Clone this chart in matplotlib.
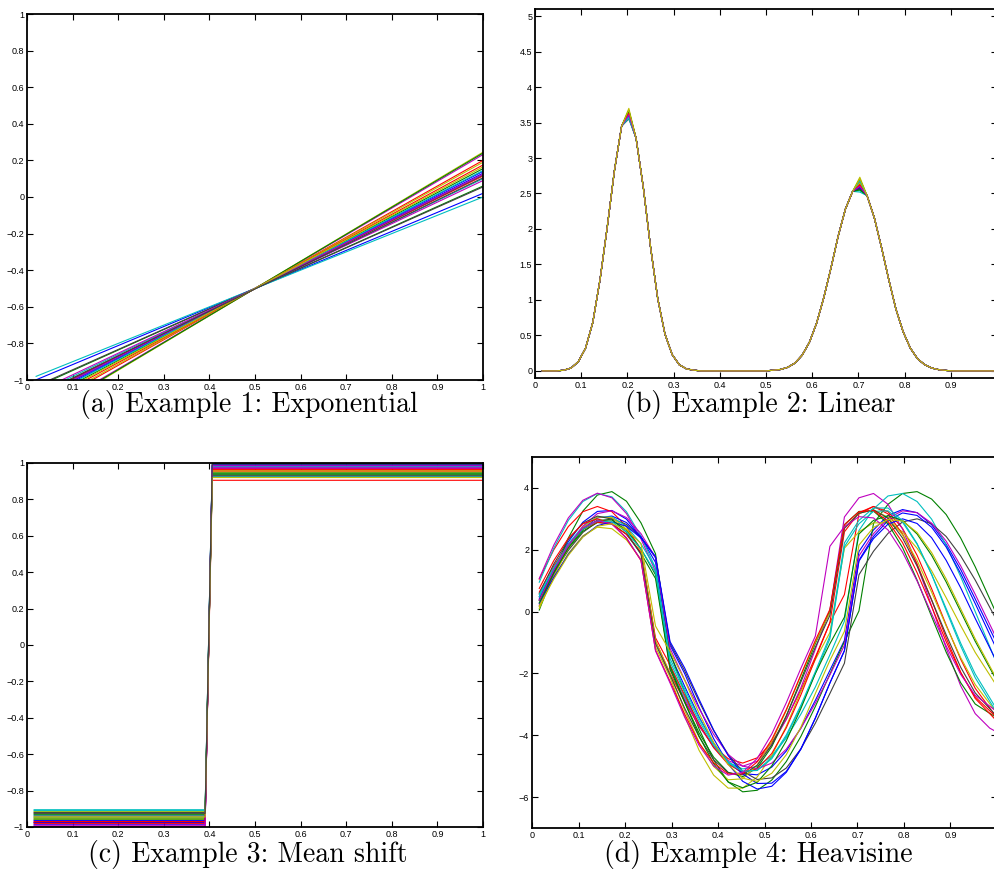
import numpy as np
import matplotlib.pyplot as plt
from matplotlib.ticker import FuncFormatter

W, H = 995, 873
TICKFONT = 6.5
CAPFONT = 20
LW = 0.8

# old matlab colour order: b g r c m y k
COLORS = ["#0000ff", "#008000", "#ff0000", "#00bfbf", "#bf00bf", "#bfbf00", "#404040"]

# ---------- (a) Exponential: straight lines through one point ----------
A_X = [0.02, 1.0]
A_START = [-0.999, -1.038, -1.172, -0.980, -1.203, -1.215, -1.033, -1.105, -1.210, -1.090, -1.076,
           -1.066, -1.162, -1.095, -1.114, -1.129, -1.148, -1.119, -1.100, -1.138, -1.086]
A_END = [0.02, 0.06, 0.20, 0.0, 0.232, 0.245, 0.055, 0.13, 0.24, 0.115, 0.10,
         0.09, 0.19, 0.12, 0.14, 0.155, 0.175, 0.145, 0.125, 0.165, 0.105]

# ---------- (b) Linear: two bumps, curves only differ at the tops ----------
B_X = np.arange(1, 65) / 64
B_PROFILE = [0.0, 0.0, 0.0, 0.01, 0.04, 0.13, 0.32, 0.68, 1.28, 2.02, 2.82, 3.45, 3.62, 3.28, 2.59, 1.75,
             1.02, 0.52, 0.23, 0.085, 0.028, 0.01, 0.0, 0.0, 0.0, 0.0, 0.0, 0.0, 0.0, 0.0, 0.0, 0.0,
             0.01, 0.02, 0.05, 0.11, 0.22, 0.40, 0.67, 1.03, 1.45, 1.90, 2.28, 2.53, 2.60, 2.47, 2.16, 1.74,
             1.29, 0.87, 0.55, 0.32, 0.17, 0.086, 0.039, 0.016, 0.006, 0.0, 0.0, 0.0, 0.0, 0.0, 0.0, 0.0]
B_PEAK1 = [3.58, 3.62, 3.64, 3.57, 3.60, 3.70, 3.55, 3.63, 3.67, 3.61,
           3.56, 3.65, 3.59, 3.62, 3.60, 3.66, 3.63, 3.58, 3.61, 3.68]
B_PEAK2 = [2.58, 2.62, 2.66, 2.54, 2.63, 2.73, 2.56, 2.60, 2.70, 2.64,
           2.52, 2.61, 2.65, 2.57, 2.59, 2.55, 2.62, 2.68, 2.60, 2.71]

# ---------- (c) Mean shift: steps ----------
C_X = [0.0156, 0.3906, 0.4063, 1.0]
C_LOW = [-0.985, -0.96, -0.975, -0.905, -0.995, -0.955, -0.92, -0.975, -0.95, -0.98, -0.935,
         -0.99, -0.915, -0.94, -0.965, -0.93, -0.97, -0.91, -1.0, -0.945, -0.925]
C_HIGH = [0.98, 0.935, 0.905, 0.99, 0.97, 0.96, 0.995, 0.985, 0.94, 0.955, 0.925,
          0.975, 0.95, 0.93, 0.99, 0.945, 0.965, 0.98, 0.985, 0.92, 0.995]

# ---------- (d) Heavisine: warped curves ----------
D_X = np.append(np.arange(1, 64, 2) / 64, 1.0)
D_CURVES = [
    [0.41, 1.41, 2.26, 2.89, 3.24, 3.27, 2.99, 2.40, 1.59, -1.38, -2.41, -3.41, -4.26, -4.89, -5.24, -5.28,
     -5.03, -4.51, -3.77, -2.87, -1.90, -0.93, 1.94, 2.64, 3.11, 3.30, 3.20, 2.81, 2.18, 1.36, 0.41, -0.56, -1.04],
    [0.05, 1.26, 2.38, 3.25, 3.77, 3.88, 3.57, 2.87, 1.87, -1.33, -2.60, -3.80, -4.80, -5.51, -5.83, -5.78,
     -5.45, -4.85, -4.04, -3.07, -2.02, -0.97, 0.02, 2.85, 3.47, 3.82, 3.88, 3.64, 3.14, 2.38, 1.45, 0.41, -0.11],
    [1.05, 2.00, 2.75, 3.23, 3.40, 3.23, 2.75, 2.00, -0.95, -2.00, -2.90, -3.71, -4.35, -4.76, -4.90, -4.73,
     -4.24, -3.48, -2.54, -1.47, -0.36, 0.55, 3.16, 3.40, 3.23, 2.69, 1.82, 0.74, -0.43, -1.54, -2.48, -3.12, -3.44],
    [0.95, 2.05, 2.95, 3.56, 3.82, 3.71, 3.23, 2.44, 1.41, -1.76, -2.77, -3.66, -4.39, -4.88, -5.09, -5.01,
     -4.67, -4.09, -3.32, -2.44, -1.40, -0.31, 2.62, 3.32, 3.74, 3.82, 3.56, 2.99, 2.15, 1.13, 0.00, -1.13, -1.70],
    [1.07, 2.15, 3.03, 3.60, 3.83, 3.68, 3.17, 2.35, 1.30, -1.88, -2.84, -3.69, -4.37, -4.82, -5.00, -4.84,
     -4.31, -3.49, -2.47, -1.22, 0.05, 3.06, 3.68, 3.82, 3.47, 2.67, 1.52, 0.18, -1.18, -2.40, -3.30, -3.77, -3.90],
    [0.17, 1.09, 1.88, 2.45, 2.73, 2.68, 2.32, 1.69, -1.15, -2.12, -3.38, -4.49, -5.29, -5.71, -5.71, -5.35,
     -4.66, -3.71, -2.59, -1.55, -0.68, 2.05, 2.58, 2.87, 2.87, 2.58, 2.05, 1.32, 0.45, -0.45, -1.32, -2.05, -2.42],
    [0.38, 1.24, 1.98, 2.56, 2.91, 3.00, 2.82, 2.40, 1.76, -1.03, -1.91, -2.91, -3.85, -4.62, -5.17, -5.43,
     -5.38, -5.06, -4.44, -3.61, -2.65, -1.67, 1.19, 1.95, 2.53, 2.90, 3.00, 2.84, 2.43, 1.80, 1.02, 0.14, -0.30],
    [0.48, 1.36, 2.12, 2.69, 3.03, 3.09, 2.88, 2.42, 1.74, -1.09, -2.00, -3.10, -4.11, -4.93, -5.49, -5.74,
     -5.65, -5.20, -4.45, -3.44, -2.31, -1.26, 1.66, 2.43, 2.95, 3.19, 3.11, 2.73, 2.09, 1.23, 0.26, -0.74, -1.24],
    [0.36, 1.28, 2.05, 2.60, 2.88, 2.84, 2.50, 1.88, 1.07, -1.86, -2.93, -3.93, -4.71, -5.20, -5.34, -5.05,
     -4.37, -3.38, -2.21, -1.03, 0.02, 2.81, 3.24, 3.25, 2.84, 2.07, 1.02, -0.16, -1.31, -2.30, -2.99, -3.29, -3.44],
    [0.63, 1.48, 2.18, 2.66, 2.89, 2.83, 2.50, 1.92, -0.85, -1.73, -2.70, -3.63, -4.40, -4.94, -5.19, -5.09,
     -4.59, -3.76, -2.70, -1.52, -0.36, 2.58, 3.20, 3.40, 3.16, 2.51, 1.54, 0.37, -0.85, -1.96, -2.81, -3.30, -3.55],
    [0.48, 1.41, 2.19, 2.76, 3.06, 3.06, 2.76, 2.19, 1.41, -1.52, -2.50, -3.45, -4.26, -4.85, -5.16, -5.14,
     -4.76, -4.04, -3.08, -2.00, -0.88, 2.10, 2.84, 3.24, 3.26, 2.89, 2.18, 1.21, 0.10, -1.02, -2.02, -2.79, -3.18],
    [0.21, 1.20, 2.08, 2.76, 3.17, 3.26, 3.04, 2.52, 1.75, -1.19, -2.20, -3.14, -3.97, -4.62, -5.00, -5.09,
     -4.90, -4.45, -3.78, -2.96, -2.05, -1.09, 1.80, 2.52, 3.02, 3.26, 3.20, 2.86, 2.28, 1.48, 0.56, -0.41, -0.90],
    [0.10, 1.14, 2.05, 2.72, 3.06, 3.04, 2.67, 1.97, -0.95, -2.00, -3.19, -4.23, -5.01, -5.44, -5.41, -4.96,
     -4.20, -3.20, -2.07, -0.99, -0.03, 2.72, 3.18, 3.29, 3.05, 2.48, 1.65, 0.63, -0.46, -1.49, -2.36, -2.98, -3.29],
    [0.58, 1.54, 2.33, 2.86, 3.09, 2.99, 2.56, 1.85, -1.04, -2.05, -3.12, -4.05, -4.79, -5.21, -5.28, -4.97,
     -4.31, -3.37, -2.28, -1.15, -0.12, 2.69, 3.18, 3.29, 3.02, 2.38, 1.47, 0.38, -0.75, -1.80, -2.63, -3.14, -3.40],
    [0.27, 1.11, 1.85, 2.42, 2.78, 2.90, 2.76, 2.38, 1.78, -0.97, -1.82, -2.84, -3.83, -4.66, -5.25, -5.56,
     -5.55, -5.17, -4.45, -3.45, -2.31, -1.27, 1.63, 2.36, 2.83, 3.00, 2.85, 2.39, 1.66, 0.77, -0.22, -1.17, -1.65],
    [0.28, 1.24, 2.06, 2.66, 2.96, 2.96, 2.63, 2.03, 1.19, -1.77, -2.92, -4.03, -4.92, -5.51, -5.70, -5.52,
     -4.99, -4.18, -3.14, -2.00, -1.04, -0.18, 2.51, 2.95, 3.10, 2.95, 2.51, 1.82, 0.96, 0.00, -0.96, -1.82, -2.25],
    [0.75, 1.65, 2.37, 2.84, 3.00, 2.84, 2.37, 1.65, -1.25, -2.26, -3.31, -4.26, -4.89, -5.25, -5.25, -4.86,
     -4.14, -3.17, -2.05, -0.93, 0.07, 2.81, 3.23, 3.27, 2.92, 2.23, 1.26, 0.16, -0.97, -1.98, -2.76, -3.21, -3.44],
    [0.55, 1.42, 2.15, 2.67, 2.93, 2.90, 2.58, 2.02, 1.26, -1.63, -2.60, -3.54, -4.33, -4.90, -5.17, -5.13,
     -4.72, -3.99, -3.03, -1.94, -0.79, 2.22, 2.95, 3.35, 3.35, 2.94, 2.20, 1.20, 0.04, -1.11, -2.14, -2.90, -3.28],
    [0.37, 1.34, 2.15, 2.71, 2.94, 2.83, 2.39, 1.66, -1.27, -2.31, -3.41, -4.33, -4.99, -5.29, -5.20, -4.75,
     -3.96, -2.95, -1.84, -0.79, 2.11, 2.75, 3.07, 3.03, 2.64, 1.92, 0.99, -0.07, -1.11, -2.03, -2.71, -3.06, -3.24],
    [0.18, 1.05, 1.82, 2.41, 2.76, 2.84, 2.65, 2.20, -0.47, -1.29, -2.22, -3.29, -4.23, -4.95, -5.39, -5.49,
     -5.23, -4.63, -3.74, -2.65, -1.58, -0.64, 2.15, 2.72, 2.98, 2.93, 2.56, 1.91, 1.06, 0.09, -0.88, -1.76, -2.20],
]

CAPTIONS = ["(a) Example 1: Exponential", "(b) Example 2: Linear",
            "(c) Example 3: Mean shift", "(d) Example 4: Heavisine"]


def matlab_fmt(v, pos):
    return ("%g" % round(v, 6)).replace("-", "\u2212")


def px_axes(left, top, right, bottom):
    return fig.add_axes([left / W, 1 - bottom / H, (right - left) / W, (bottom - top) / H])


def style(ax, xlim, ylim, yticks):
    ax.set_xlim(*xlim)
    ax.set_ylim(*ylim)
    ax.set_xticks(np.arange(0, 11) / 10)
    ax.set_yticks(yticks)
    ax.xaxis.set_major_formatter(FuncFormatter(matlab_fmt))
    ax.yaxis.set_major_formatter(FuncFormatter(matlab_fmt))
    ax.tick_params(direction="in", top=True, right=True, length=4, width=0.8,
                   labelsize=TICKFONT, pad=2)
    for lab in ax.get_xticklabels() + ax.get_yticklabels():
        lab.set_family("Liberation Sans")
    for sp in ax.spines.values():
        sp.set_linewidth(1.3)


fig = plt.figure(figsize=(W / 100, H / 100), dpi=100)

# (a)
ax = px_axes(27, 14, 483, 380)
for i in range(len(A_END)):
    ax.plot(A_X, [A_START[i], A_END[i]], color=COLORS[i % 7], linewidth=LW)
style(ax, (0, 1), (-1, 1), np.arange(-5, 6) / 5)

# (b)
ax = px_axes(535, 9, 997, 378)
for i in range(len(B_PEAK1)):
    y = list(B_PROFILE)
    y[12] = B_PEAK1[i]
    y[44] = B_PEAK2[i]
    ax.plot(B_X, y, color=COLORS[i % 7], linewidth=LW)
style(ax, (0, 1), (-0.1, 5.1), np.arange(0, 11) / 2)

# (c)
ax = px_axes(27, 463, 483, 827)
for i in range(len(C_LOW)):
    ax.plot(C_X, [C_LOW[i], C_LOW[i], C_HIGH[i], C_HIGH[i]], color=COLORS[i % 7], linewidth=LW)
style(ax, (0, 1), (-1, 1), np.arange(-5, 6) / 5)

# (d)
ax = px_axes(532, 457, 997, 828)
for i, curve in enumerate(D_CURVES):
    ax.plot(D_X, curve, color=COLORS[i % 7], linewidth=LW)
style(ax, (0, 1), (-7, 5), np.arange(-6, 5, 2))

# captions under each panel
fig.text(249 / W, 1 - 412 / H, CAPTIONS[0], ha="center", va="baseline", fontsize=CAPFONT, family="cmr10")
fig.text(760 / W, 1 - 412 / H, CAPTIONS[1], ha="center", va="baseline", fontsize=CAPFONT, family="cmr10")
fig.text(248 / W, 1 - 862 / H, CAPTIONS[2], ha="center", va="baseline", fontsize=CAPFONT, family="cmr10")
fig.text(758 / W, 1 - 862 / H, CAPTIONS[3], ha="center", va="baseline", fontsize=CAPFONT, family="cmr10")

plt.savefig("out.png", dpi=100)
